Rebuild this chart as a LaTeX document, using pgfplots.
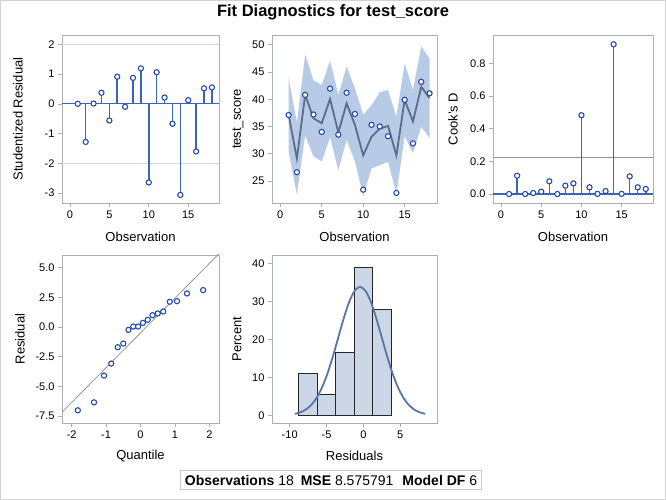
\documentclass[border=0pt]{standalone}
\usepackage{fontspec}
\setmainfont{Liberation Sans}
\usepackage{pgfplots}
\pgfplotsset{compat=1.18}
\definecolor{mblue}{RGB}{38,76,170}
\definecolor{nblue}{RGB}{60,100,190}
\definecolor{bandc}{RGB}{183,203,231}
\definecolor{fitline}{RGB}{92,108,140}
\definecolor{framec}{RGB}{170,176,182}
\definecolor{refred}{RGB}{232,210,202}
\definecolor{histfill}{RGB}{203,214,230}
\definecolor{normc}{RGB}{88,118,165}
\definecolor{refgray}{RGB}{150,150,150}
\pgfplotsset{
  diag/.style={scale only axis, height=168pt,
    axis line style={framec}, tick style={framec, semithick},
    tick align=outside, major tick length=4pt,
    xtick pos=bottom, ytick pos=left,
    /pgf/number format/assume math mode=true,
    ticklabel style={font=\fontsize{11}{13}\selectfont, text=black},
    label style={font=\fontsize{13}{15}\selectfont},
    xlabel style={at={([yshift=-34pt]axis description cs:0.5,0)}, anchor=center},
    clip=true},
  mk/.style={mark=*, mark size=2.6pt, mark options={fill=white, draw=mblue, line width=1.1pt, solid}},
}
\begin{document}
\begin{tikzpicture}[x=1pt,y=1pt]
\useasboundingbox (0,0) rectangle (666,500);
\draw[gray!35, line width=1pt] (0.5,0.5) rectangle (665.5,499.5);
\node[font=\fontsize{16.5}{19}\selectfont\bfseries] at (333,488) {Fit Diagnostics for test\_score};

% Panel 1: studentized residuals
\begin{axis}[diag, at={(62pt,465pt)}, anchor=north west, width=157pt,
  xmin=-1, xmax=18.9, ymin=-3.33, ymax=2.31,
  xtick={0,5,10,15}, ytick={-3,-2,-1,0,1,2},
  yticklabels={-3,-2,-1,0,1,2},
  xlabel={Observation}, ylabel={Studentized Residual},
  ylabel style={at={([xshift=-44pt]axis description cs:0,0.5)}, anchor=center}]
\addplot[refred, line width=1pt] coordinates {(-1,2) (18.9,2)};
\addplot[refred, line width=1pt] coordinates {(-1,-2) (18.9,-2)};
\addplot[nblue, line width=1.2pt] coordinates {(-1,0) (18.9,0)};
\addplot[ycomb, draw=nblue, line width=1.5pt, mk] coordinates {
(1,0.00) (2,-1.28) (3,0.01) (4,0.37) (5,-0.56) (6,0.91) (7,-0.10) (8,0.87) (9,1.19)
(10,-2.64) (11,1.06) (12,0.21) (13,-0.67) (14,-3.06) (15,0.12) (16,-1.60) (17,0.52) (18,0.55)};
\end{axis}

% Panel 2: observed vs fitted with band
\begin{axis}[diag, at={(272pt,465pt)}, anchor=north west, width=165pt,
  xmin=-1, xmax=18.9, ymin=20.95, ymax=51.8,
  xtick={0,5,10,15}, ytick={25,30,35,40,45,50},
  yticklabels={25,30,35,40,45,50},
  xlabel={Observation}, ylabel={test\_score},
  ylabel style={at={([xshift=-34pt]axis description cs:0,0.5)}, anchor=center}]
\addplot[fill=bandc, draw=none] coordinates {
(1,44.0) (2,35.7) (3,48.2) (4,43.5) (5,42.6) (6,47.1) (7,40.8) (8,46.0) (9,42.0)
(10,37.2) (11,38.9) (12,41.3) (13,41.7) (14,36.8) (15,46.6) (16,41.7) (17,49.7) (18,47.5)
(18,32.9) (17,34.9) (16,30.1) (15,33.2) (14,22.6) (13,28.5) (12,27.9) (11,27.3) (10,22.2)
(9,28.6) (8,32.5) (7,27.0) (6,33.0) (5,28.6) (4,29.5) (3,33.4) (2,22.5) (1,30.4)};
\addplot[fitline, line width=1.8pt] coordinates {
(1,37.2) (2,29.1) (3,40.8) (4,36.5) (5,35.6) (6,40.05) (7,33.9) (8,39.25) (9,35.3)
(10,29.7) (11,33.1) (12,34.6) (13,35.1) (14,29.7) (15,39.9) (16,35.9) (17,42.3) (18,40.2)};
\addplot[only marks, mk] coordinates {
(1,37.1) (2,26.6) (3,40.8) (4,37.2) (5,34.0) (6,41.95) (7,33.5) (8,41.2) (9,37.3)
(10,23.4) (11,35.3) (12,35.0) (13,33.2) (14,22.8) (15,39.9) (16,31.9) (17,43.2) (18,41.1)};
\end{axis}

% Panel 3: Cook's D
\begin{axis}[diag, at={(493pt,465pt)}, anchor=north west, width=160pt,
  xmin=-1, xmax=18.9, ymin=-0.055, ymax=0.973,
  xtick={0,5,10,15}, ytick={0,0.2,0.4,0.6,0.8},
  yticklabels={0.0,0.2,0.4,0.6,0.8},
  xlabel={Observation}, ylabel={Cook's D},
  ylabel style={at={([xshift=-40pt]axis description cs:0,0.5)}, anchor=center}]
\addplot[refgray, line width=1pt] coordinates {(-1,0.222) (18.9,0.222)};
\addplot[nblue, line width=1.2pt] coordinates {(-1,0) (18.9,0)};
\addplot[ycomb, draw=nblue, line width=1.5pt, mk] coordinates {
(1,0.000) (2,0.112) (3,0.000) (4,0.006) (5,0.014) (6,0.078) (7,0.000) (8,0.051) (9,0.065)
(10,0.482) (11,0.041) (12,0.001) (13,0.018) (14,0.916) (15,0.001) (16,0.108) (17,0.041) (18,0.031)};
\end{axis}

% Panel 4: Q-Q
\begin{axis}[diag, at={(62pt,245pt)}, anchor=north west, width=157pt,
  xmin=-2.28, xmax=2.28, ymin=-8.09, ymax=6.07,
  xtick={-2,-1,0,1,2}, xticklabels={-2,-1,0,1,2},
  ytick={-7.5,-5,-2.5,0,2.5,5},
  yticklabels={-7.5,-5.0,-2.5,0.0,2.5,5.0},
  xlabel={Quantile}, ylabel={Residual},
  xlabel style={at={([yshift=-33pt]axis description cs:0.5,0)}, anchor=center},
  ylabel style={at={([xshift=-42pt]axis description cs:0,0.5)}, anchor=center}]
\addplot[refgray, line width=0.8pt] coordinates {(-2.4,-7.53) (2.4,6.53)};
\addplot[only marks, mk] coordinates {
(-1.82,-7.02) (-1.35,-6.35) (-1.06,-4.09) (-0.85,-3.08) (-0.66,-1.70) (-0.50,-1.39)
(-0.35,-0.24) (-0.21,0.04) (-0.07,0.04) (0.07,0.35) (0.21,0.61) (0.35,1.00)
(0.50,1.14) (0.66,1.31) (0.85,2.13) (1.06,2.18) (1.35,2.83) (1.82,3.11)};
\end{axis}

% Panel 5: histogram
\begin{axis}[diag, at={(272pt,245pt)}, anchor=north west, width=165pt,
  xmin=-12.4, xmax=10.0, ymin=-2.03, ymax=42.2,
  xtick={-10,-5,0,5}, xticklabels={-10,-5,0,5},
  ytick={0,10,20,30,40}, yticklabels={0,10,20,30,40},
  xlabel={Residuals}, ylabel={Percent},
  xlabel style={at={([yshift=-33pt]axis description cs:0.5,0)}, anchor=center},
  ylabel style={at={([xshift=-35pt]axis description cs:0,0.5)}, anchor=center}]
\addplot[ybar interval, fill=histfill, draw=black!85, line width=0.9pt] coordinates {
(-8.75,11.11) (-6.25,5.56) (-3.75,16.67) (-1.25,38.89) (1.25,27.78) (3.75,27.78)};
\addplot[normc, line width=1.8pt, smooth] coordinates {
(-9.30,0.376) (-8.5625,0.770) (-7.825,1.485) (-7.0875,2.689) (-6.35,4.574)
(-5.6125,7.310) (-4.875,10.973) (-4.1375,15.475) (-3.4,20.501) (-2.6625,25.514)
(-1.925,29.828) (-1.1875,32.760) (-0.45,33.8) (0.2875,32.760) (1.025,29.828)
(1.7625,25.514) (2.5,20.501) (3.2375,15.475) (3.975,10.973) (4.7125,7.310)
(5.45,4.574) (6.1875,2.689) (6.925,1.485) (7.6625,0.770) (8.4,0.376)};
\end{axis}

\node[draw=gray!40, line width=0.8pt, inner xsep=4pt, inner ysep=4pt,
  font=\fontsize{14}{16}\selectfont] at (331,20)
  {\textbf{Observations} 18\hspace{7pt}\textbf{MSE} 8.575791\hspace{9pt}\textbf{Model DF} 6};
\end{tikzpicture}
\end{document}
